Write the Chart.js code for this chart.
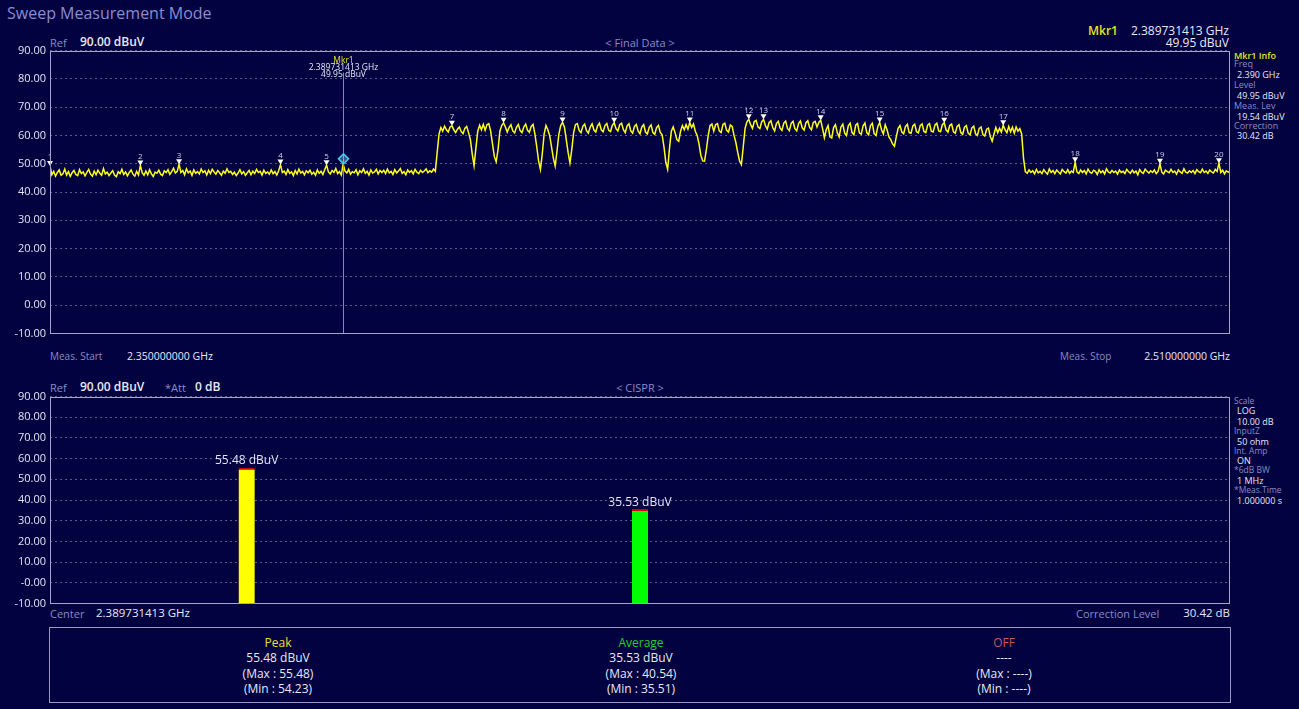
<!DOCTYPE html>
<html>
<head>
<meta charset="utf-8">
<title>Sweep Measurement Mode</title>
<script src="https://cdn.jsdelivr.net/npm/chart.js@4.4.1/dist/chart.umd.min.js"></script>
<style>
  html, body { margin: 0; padding: 0; background: #020240; }
  #screen { position: absolute; left: 0; top: 0; width: 1299px; height: 709px; background: #020240; overflow: hidden;
            font-family: "Open Sans", sans-serif; }
  .t { position: absolute; white-space: nowrap; line-height: 1; transform: translateY(-50%); }
  .r { transform: translate(-100%, -50%); }
  .c { transform: translate(-50%, -50%); }
  .lav { color: #8a8ac6; }
  .wh { color: #e8e8f6; }
  .yel { color: #e6e22c; }
  canvas { position: absolute; left: 0; }
  #box { position: absolute; left: 49px; top: 627px; width: 1180px; height: 74px; border: 1px solid #9a9ac0; }
</style>
</head>
<body>
<div id="screen">
  <div class="t lav" style="left:7px;top:13px;font-size:16px;color:#8c8cce;">Sweep Measurement Mode</div>

  <!-- upper panel header -->
  <div class="t lav" style="left:50px;top:42px;font-size:11px;">Ref</div>
  <div class="t wh" style="left:80px;top:42px;font-size:12px;font-weight:600;">90.00 dBuV</div>
  <div class="t c lav" style="left:640px;top:42px;font-size:11px;">&lt; Final Data &gt;</div>
  <div class="t yel" style="left:1088px;top:31px;font-size:12px;font-weight:600;">Mkr1</div>
  <div class="t r wh" style="left:1229px;top:31px;font-size:12px;">2.389731413 GHz</div>
  <div class="t r wh" style="left:1229px;top:43px;font-size:12px;">49.95 dBuV</div>

  <!-- marker info column -->
  <div class="t yel" style="left:1234px;top:55px;font-size:9px;font-weight:600;">Mkr1 Info</div>
  <div class="t lav" style="left:1234px;top:63px;font-size:9px;">Freq</div>
  <div class="t wh" style="left:1237px;top:74px;font-size:9px;">2.390 GHz</div>
  <div class="t lav" style="left:1234px;top:84px;font-size:9px;">Level</div>
  <div class="t wh" style="left:1237px;top:95px;font-size:9px;">49.95 dBuV</div>
  <div class="t lav" style="left:1234px;top:105px;font-size:9px;">Meas. Lev</div>
  <div class="t wh" style="left:1237px;top:116px;font-size:9px;">19.54 dBuV</div>
  <div class="t lav" style="left:1234px;top:125px;font-size:9px;">Correction</div>
  <div class="t wh" style="left:1237px;top:135px;font-size:9px;">30.42 dB</div>

  <!-- sweep span -->
  <div class="t lav" style="left:50px;top:356px;font-size:10px;">Meas. Start</div>
  <div class="t wh" style="left:127px;top:356px;font-size:10.5px;">2.350000000 GHz</div>
  <div class="t lav" style="left:1060px;top:356px;font-size:10px;">Meas. Stop</div>
  <div class="t r wh" style="left:1230px;top:356px;font-size:10.5px;">2.510000000 GHz</div>

  <!-- lower panel header -->
  <div class="t lav" style="left:50px;top:387px;font-size:11px;">Ref</div>
  <div class="t wh" style="left:80px;top:387px;font-size:12px;font-weight:600;">90.00 dBuV</div>
  <div class="t lav" style="left:165px;top:387px;font-size:11px;">*Att</div>
  <div class="t wh" style="left:195px;top:387px;font-size:12px;font-weight:600;">0 dB</div>
  <div class="t c lav" style="left:640px;top:387px;font-size:11px;">&lt; CISPR &gt;</div>

  <!-- receiver settings column -->
  <div class="t lav" style="left:1234px;top:401px;font-size:8.5px;">Scale</div>
  <div class="t wh" style="left:1237px;top:410px;font-size:9px;">LOG</div>
  <div class="t wh" style="left:1237px;top:421px;font-size:9px;">10.00 dB</div>
  <div class="t lav" style="left:1234px;top:431px;font-size:8.5px;">InputZ</div>
  <div class="t wh" style="left:1237px;top:441px;font-size:9px;">50 ohm</div>
  <div class="t lav" style="left:1234px;top:451px;font-size:8.5px;">Int. Amp</div>
  <div class="t wh" style="left:1237px;top:460px;font-size:9px;">ON</div>
  <div class="t lav" style="left:1234px;top:470px;font-size:8.5px;">*6dB BW</div>
  <div class="t wh" style="left:1237px;top:480px;font-size:9px;">1 MHz</div>
  <div class="t lav" style="left:1234px;top:490px;font-size:8.5px;">*Meas.Time</div>
  <div class="t wh" style="left:1237px;top:500px;font-size:9px;">1.000000 s</div>

  <!-- lower panel footer -->
  <div class="t lav" style="left:50px;top:613px;font-size:11px;">Center</div>
  <div class="t wh" style="left:96px;top:613px;font-size:11.5px;">2.389731413 GHz</div>
  <div class="t lav" style="left:1076px;top:613px;font-size:11px;">Correction Level</div>
  <div class="t r wh" style="left:1230px;top:613px;font-size:11.5px;">30.42 dB</div>

  <div id="box"></div>

  <canvas id="sweep" width="1232" height="304" style="top:40px;"></canvas>
  <canvas id="cispr" width="1232" height="228" style="top:386px;"></canvas>
</div>

<script>
// Sweep settings (MHz)
const START_MHZ = 2350;
const STOP_MHZ = 2510;
const STEP_MHZ = 0.25;

// Swept trace level in dBuV, one value per 0.25 MHz from 2350 MHz to 2510 MHz
const traceLevel = [
  49.2,46.1,47.3,45.6,46.9,47.8,45.9,46.4,48.1,46.0,47.2,45.5,46.8,47.6,46.2,45.8,47.9,46.5,47.1,45.7,
  46.9,48.0,46.3,45.6,47.4,46.1,47.7,46.6,45.9,48.3,46.4,47.0,45.8,46.7,47.5,46.0,45.4,47.2,46.5,48.0,
  46.2,47.1,45.7,46.9,47.8,46.3,45.6,47.3,46.0,49.4,46.8,45.9,47.4,46.1,47.9,46.4,45.5,47.0,46.6,47.7,
  46.3,45.8,47.5,46.9,47.9,46.2,47.2,48.4,46.7,47.3,49.8,46.9,47.6,46.1,48.2,46.8,47.4,45.9,47.8,46.6,
  47.2,46.4,48.1,46.9,47.5,46.0,47.7,46.5,48.0,47.1,46.3,47.6,46.8,45.9,47.4,46.6,48.2,46.9,47.3,46.2,
  47.0,45.8,46.7,47.9,46.4,47.2,45.9,46.8,47.6,46.1,47.4,46.5,48.0,46.9,47.3,46.0,47.7,46.6,47.1,46.3,
  47.8,46.5,47.2,46.0,47.5,49.7,46.9,47.4,46.2,47.9,46.6,47.1,45.8,47.6,46.4,48.1,46.7,47.3,46.1,47.5,
  46.8,47.7,46.3,47.0,45.9,47.8,46.6,47.3,46.2,47.9,49.5,47.1,46.4,47.6,46.9,48.3,46.5,47.2,46.0,49.95,
  47.4,46.7,48.0,46.3,47.2,46.8,47.9,46.1,47.5,46.9,48.2,46.6,47.3,46.0,47.8,46.7,47.1,48.0,46.4,47.6,
  46.9,47.7,46.5,48.1,46.8,47.3,46.2,47.9,46.7,47.4,48.3,46.6,47.2,46.1,47.8,46.9,47.5,46.4,48.0,47.0,
  46.5,47.7,46.9,47.4,48.2,46.8,47.5,47.0,48.1,47.3,54.0,60.5,62.8,61.5,63.3,62.0,61.2,63.0,63.4,62.0,
  61.0,62.2,63.0,61.4,60.6,62.5,63.2,61.0,58.5,53.5,49.3,55.5,61.5,63.6,62.0,63.9,61.8,63.8,64.2,61.5,
  57.0,52.5,50.7,55.0,61.5,63.5,64.5,63.0,61.2,62.8,63.8,61.6,60.9,62.9,63.9,61.7,61.0,63.0,64.0,61.8,
  61.1,63.2,63.9,60.5,56.0,51.0,48.0,53.5,60.5,63.5,62.0,60.0,56.0,52.0,49.2,54.5,60.5,63.5,64.6,63.0,
  58.5,54.0,50.3,55.0,61.0,63.8,64.2,61.8,61.0,63.2,64.0,61.7,60.8,63.0,64.1,61.9,61.2,63.4,64.3,62.0,
  61.3,63.5,64.2,61.8,61.4,63.6,64.5,62.4,61.6,63.8,64.3,62.0,61.0,63.4,64.1,61.6,60.8,63.2,63.9,61.5,
  60.6,63.0,63.8,61.2,60.5,62.9,63.7,61.0,60.4,62.8,63.6,61.1,60.2,56.0,50.5,48.0,55.5,61.5,63.0,61.0,
  58.5,57.9,61.5,63.5,62.0,63.8,62.2,64.6,62.8,64.0,61.5,60.0,57.0,53.0,51.0,50.9,55.0,60.0,63.5,64.0,
  61.5,63.8,64.2,61.6,61.0,63.9,64.3,61.8,61.2,63.7,63.2,60.0,57.5,54.0,51.0,49.7,56.0,62.5,64.8,65.7,
  63.8,62.5,64.9,65.3,63.0,62.4,64.8,65.7,63.5,62.2,64.5,65.2,62.8,61.6,64.2,65.0,62.6,61.8,64.4,65.1,
  62.5,61.7,64.3,65.0,62.4,61.6,64.2,65.1,62.7,61.9,64.5,65.2,62.8,62.0,64.6,65.0,63.0,64.6,65.4,62.5,
  59.2,62.0,63.5,59.5,59.1,62.8,63.8,61.0,59.5,63.0,64.0,60.8,60.0,63.5,64.3,61.0,60.3,63.6,64.2,60.9,
  60.4,63.4,64.4,61.0,60.2,63.5,64.3,60.6,60.0,63.2,64.6,62.0,60.5,63.8,62.0,59.5,58.5,57.0,56.2,59.5,
  62.5,63.5,61.2,60.6,63.2,63.9,61.0,60.8,63.4,64.0,61.3,60.9,63.5,64.1,61.4,61.0,63.6,64.2,61.5,61.2,
  63.7,64.3,61.6,61.3,63.8,64.5,62.0,61.2,63.5,64.0,61.3,60.8,63.2,63.8,61.0,60.4,62.9,63.5,60.8,60.2,
  62.7,63.3,60.6,60.0,62.5,63.0,60.3,59.8,62.2,62.6,59.5,58.0,60.5,62.8,61.0,62.5,61.2,63.6,62.0,61.0,
  63.2,61.3,62.9,60.8,63.0,61.5,62.4,60.5,52.0,47.2,46.6,47.8,46.9,47.5,46.4,48.0,46.8,47.3,46.5,47.9,
  47.0,46.3,48.2,46.9,47.6,46.5,47.8,47.1,46.4,48.0,47.2,46.7,47.9,46.6,47.4,46.9,50.5,47.1,46.5,47.8,
  46.9,47.6,46.4,48.1,47.0,46.6,47.7,47.3,46.2,47.9,46.8,47.5,46.4,48.2,47.1,46.7,47.6,46.9,47.4,46.3,
  47.8,46.9,47.3,46.5,48.0,47.2,46.6,47.7,46.8,47.4,46.1,47.9,47.0,46.6,48.1,47.3,46.7,47.5,46.9,47.8,
  46.5,47.3,50.0,47.0,46.4,47.7,47.2,46.8,48.0,46.9,47.4,46.3,47.8,47.1,46.6,48.2,47.0,46.7,47.5,46.9,
  47.6,46.5,47.9,47.2,46.8,48.1,46.9,47.4,46.6,47.8,47.1,46.7,48.0,47.3,50.2,46.9,47.7,46.4,47.5,47.0,
  47.3
];

// Numbered peak markers
const peakLabel = ['1','2','3','4','5','7','8','9','10','11','12','13','14','15','16','17','18','19','20'];
const peakFreq  = [2350.0,2362.25,2367.5,2381.25,2387.5,2404.5,2411.5,2419.5,2426.5,2436.75,
                   2444.75,2446.75,2454.5,2462.5,2471.25,2479.25,2489.0,2500.5,2508.5];
const peakLevel = [49.2,49.4,49.8,49.7,49.5,63.4,64.5,64.6,64.5,64.6,
                   65.7,65.7,65.4,64.6,64.5,63.6,50.5,50.0,50.2];

// Active marker
const mkrName = 'Mkr1';
const mkrFreqGHz = 2.389731413;
const mkrLevel = 49.95;

// Level axis ticks (dBuV)
const levelMin = -10;
const levelMax = 90;
const levelStep = 10;

// CISPR detector readings (dBuV)
const detectors = ['Peak', 'Average', 'OFF'];
const detLevel  = [55.48, 35.53, null];
const detMax    = [55.48, 40.54, null];
const detMin    = [54.23, 35.51, null];
const detColor  = ['#ffff00', '#00ff00', '#d05060'];
const detTitleColor = ['#e6e22c', '#22d422', '#c8566a'];

Chart.defaults.font.family = '"Open Sans", sans-serif';
Chart.defaults.color = '#e4e4f4';

const GRID = 'rgba(160,160,196,0.55)';
const FRAME = '#a4a4c8';

const frame = {
  id: 'frame',
  afterDraw(chart) {
    const { ctx, chartArea: a } = chart;
    ctx.save();
    ctx.strokeStyle = FRAME;
    ctx.lineWidth = 1;
    ctx.strokeRect(Math.round(a.left) + 0.5, Math.round(a.top) + 0.5,
                   Math.round(a.right - a.left) - 1, Math.round(a.bottom - a.top) - 1);
    ctx.restore();
  }
};

function levelAxis(fmt) {
  return {
    min: levelMin, max: levelMax,
    ticks: { stepSize: levelStep, padding: 4, color: '#e4e4f4', font: { size: 11 }, callback: fmt },
    grid: { color: GRID, lineWidth: 1, drawTicks: false },
    border: { display: false, dash: [2, 3] },
    afterFit(scale) { scale.width = 50; }
  };
}

// markers drawn over the trace
const sweepMarkers = {
  id: 'sweepMarkers',
  afterDatasetsDraw(chart) {
    const { ctx, chartArea: a, scales: { x, y } } = chart;
    ctx.save();
    ctx.font = '8px "Open Sans", sans-serif';
    ctx.textAlign = 'center';
    ctx.textBaseline = 'alphabetic';
    peakFreq.forEach((f, k) => {
      const px = x.getPixelForValue(f);
      const py = y.getPixelForValue(peakLevel[k]);
      ctx.fillStyle = '#ffffff';
      ctx.beginPath();
      ctx.moveTo(px - 3, py - 5);
      ctx.lineTo(px + 3, py - 5);
      ctx.lineTo(px, py);
      ctx.closePath();
      ctx.fill();
      ctx.fillStyle = '#cfcff2';
      ctx.fillText(peakLabel[k], px, py - 6.5);
    });

    const mx = Math.round(x.getPixelForValue(mkrFreqGHz * 1000)) + 0.5;
    const my = y.getPixelForValue(mkrLevel);
    ctx.setLineDash([]);
    ctx.strokeStyle = '#18b4f0';
    ctx.lineWidth = 1;
    ctx.beginPath();
    ctx.moveTo(mx, a.top + 22);
    ctx.lineTo(mx, a.bottom);
    ctx.stroke();

    ctx.beginPath();
    ctx.moveTo(mx, my - 10);
    ctx.lineTo(mx + 5, my - 5);
    ctx.lineTo(mx, my);
    ctx.lineTo(mx - 5, my - 5);
    ctx.closePath();
    ctx.fillStyle = 'rgba(170,225,245,0.35)';
    ctx.fill();
    ctx.strokeStyle = '#46c6f0';
    ctx.lineWidth = 1.6;
    ctx.stroke();

    ctx.textBaseline = 'middle';
    ctx.font = '8.5px "Open Sans", sans-serif';
    ctx.fillStyle = '#e6e22c';
    ctx.fillText(mkrName, mx, a.top + 10);
    ctx.fillStyle = '#e8e8f6';
    ctx.fillText(mkrFreqGHz.toFixed(9) + ' GHz', mx, a.top + 17);
    ctx.fillText(mkrLevel.toFixed(2) + ' dBuV', mx, a.top + 24);
    ctx.restore();
  }
};

new Chart(document.getElementById('sweep'), {
  type: 'line',
  data: {
    datasets: [{
      data: traceLevel.map((v, i) => ({ x: START_MHZ + i * STEP_MHZ, y: v })),
      borderColor: '#ffff1e',
      borderWidth: 1.5,
      pointRadius: 0,
      tension: 0,
      fill: false
    }]
  },
  options: {
    responsive: false,
    animation: false,
    events: [],
    layout: { padding: { top: 9, right: 2, bottom: 8, left: 0 } },
    plugins: { legend: { display: false }, tooltip: { enabled: false } },
    scales: {
      x: { type: 'linear', min: START_MHZ, max: STOP_MHZ, display: false },
      y: levelAxis(v => v.toFixed(2))
    }
  },
  plugins: [sweepMarkers, frame]
});

// value captions above detector bars
const barCaptions = {
  id: 'barCaptions',
  afterDatasetsDraw(chart) {
    const { ctx } = chart;
    const meta = chart.getDatasetMeta(0);
    ctx.save();
    ctx.font = '12px "Open Sans", sans-serif';
    ctx.fillStyle = '#e4e4f4';
    ctx.textAlign = 'center';
    ctx.textBaseline = 'middle';
    meta.data.forEach((bar, i) => {
      if (detLevel[i] === null) return;
      ctx.fillText(detLevel[i].toFixed(2) + ' dBuV', bar.x, bar.y - 7);
    });
    ctx.restore();
  }
};

new Chart(document.getElementById('cispr'), {
  type: 'bar',
  data: {
    labels: detectors,
    datasets: [{
      data: detLevel,
      base: levelMin,
      backgroundColor: detColor,
      borderColor: '#d00010',
      borderWidth: { top: 2, right: 0, bottom: 0, left: 0 },
      borderSkipped: 'start',
      barThickness: 16
    }]
  },
  options: {
    responsive: false,
    animation: false,
    events: [],
    layout: { padding: { top: 10, right: 2, bottom: 8, left: 0 } },
    plugins: { legend: { display: false }, tooltip: { enabled: false } },
    scales: {
      x: { type: 'category', display: false },
      y: levelAxis(v => (v === 0 ? '-0.00' : v.toFixed(2)))
    }
  },
  plugins: [barCaptions, frame]
});

// detector summary table
const box = document.getElementById('box');
const colCenters = [228, 591, 954];
detectors.forEach((name, i) => {
  const lines = [
    [name, detTitleColor[i]],
    [detLevel[i] === null ? '----' : detLevel[i].toFixed(2) + ' dBuV', '#e8e8f6'],
    ['(Max : ' + (detMax[i] === null ? '----' : detMax[i].toFixed(2)) + ')', '#e8e8f6'],
    ['(Min : ' + (detMin[i] === null ? '----' : detMin[i].toFixed(2)) + ')', '#e8e8f6']
  ];
  lines.forEach((ln, k) => {
    const d = document.createElement('div');
    d.className = 't c';
    d.textContent = ln[0];
    d.style.left = colCenters[i] + 'px';
    d.style.top = (15 + k * 15.3) + 'px';
    d.style.fontSize = '12px';
    d.style.color = ln[1];
    box.appendChild(d);
  });
});
</script>
</body>
</html>
